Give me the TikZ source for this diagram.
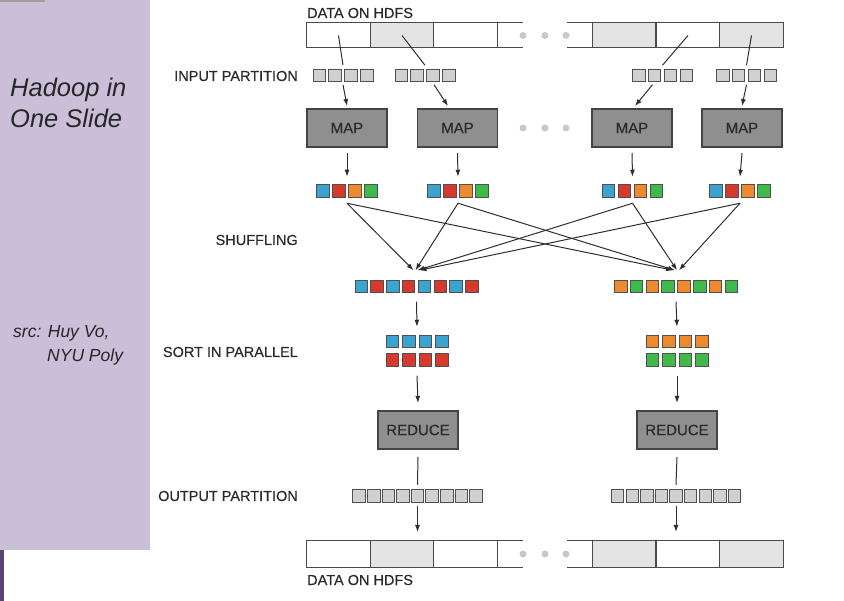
\documentclass[tikz,border=0pt]{standalone}
\usepackage{fontspec}
\setmainfont{Liberation Sans}
\newfontfamily\lblfont[FakeBold=0.4]{Liberation Sans}
\usepackage{tikz}
\usetikzlibrary{arrows.meta}
\usetikzlibrary{positioning}

\definecolor{lav}{HTML}{CABED9}
\definecolor{strip}{HTML}{594470}
\definecolor{topbar}{HTML}{A0A0A0}
\definecolor{txt}{HTML}{2A2A2A}
\definecolor{linec}{HTML}{2E2E2E}
\definecolor{cellline}{HTML}{4A4A4A}
\definecolor{cellgray}{HTML}{E3E3E3}
\definecolor{sqline}{HTML}{505050}
\definecolor{partgray}{HTML}{D0D0D0}
\definecolor{boxgray}{HTML}{8F8F8F}
\definecolor{boxline}{HTML}{444444}
\definecolor{dotc}{HTML}{C8C8C8}
\definecolor{sqblue}{HTML}{3AA3CF}
\definecolor{sqred}{HTML}{D63A2F}
\definecolor{sqorange}{HTML}{EE8A2E}
\definecolor{sqgreen}{HTML}{3DBA4A}

\tikzset{
  cell/.style={draw=cellline, line width=1pt, minimum width=63.5pt, minimum height=25pt, inner sep=0pt, outer sep=0pt},
  shadecell/.style={cell, fill=cellgray},
  sq/.style={draw=sqline, line width=0.9pt, minimum size=12.5pt, inner sep=0pt},
  grp/.style={inner sep=0pt, outer sep=0pt, minimum height=12.5pt},
  task/.style={draw=boxline, fill=boxgray, line width=1.1pt, minimum width=80pt, minimum height=38pt, outer sep=0pt, text=txt, font=\lblfont\fontsize{15}{17}\selectfont},
  lbl/.style={text=txt, inner sep=0pt, font=\lblfont\fontsize{14.5}{16}\selectfont},
  side/.style={text=black!85, inner sep=0pt, anchor=base west},
  arr/.style={draw=linec, line width=1pt, -{Latex[length=7pt,width=5pt]}},
  ln/.style={draw=linec, line width=1pt},
}

\begin{document}
\begin{tikzpicture}[x=1pt, y=-1pt]
    \useasboundingbox (0,0) rectangle (844,601);

    % side panel
    \fill[lav] (0,0) rectangle (150,550);
    \fill[strip] (0,550) rectangle (4,601);
    \fill[topbar] (0,0) rectangle (45,2.5);
    \node[side, font=\fontsize{25.5}{30}\selectfont\itshape] (ttl1) at (10,97) {Hadoop in};
    \node[side, font=\fontsize{25.5}{30}\selectfont\itshape] (ttl2) at (10,128) {One Slide};
    \node[side, font=\fontsize{17.5}{20}\selectfont\itshape] (src1) at (13,338) {src: Huy Vo,};
    \node[side, font=\fontsize{17.5}{20}\selectfont\itshape] (src2) at (47,362) {NYU Poly};

    % data on hdfs, top
    \node[lbl, anchor=base west] (dtop) at (307,18) {DATA ON HDFS};
    \node[cell] (t1) at (338.5,35.5) {};
    \node[shadecell] (t2) at (402,35.5) {};
    \node[cell] (t3) at (465.5,35.5) {};
    \node[shadecell] (t4) at (624,35.5) {};
    \node[cell] (t5) at (688,35.5) {};
    \node[shadecell] (t6) at (751.5,35.5) {};
    \draw[cellline, line width=1pt] (t3.north east) -- ++(26,0) (t3.south east) -- ++(26,0);
    \draw[cellline, line width=1pt] (t4.north west) -- ++(-25,0) (t4.south west) -- ++(-25,0);

    % labels
    \node[lbl, anchor=east] (linp) at (298,76) {INPUT PARTITION};
    \node[lbl, anchor=east] (lshf) at (298,240) {SHUFFLING};
    \node[lbl, anchor=east] (lsrt) at (298,352) {SORT IN PARALLEL};
    \node[lbl, anchor=east] (lout) at (298,496) {OUTPUT PARTITION};

    % input partitions
    \foreach \g/\cx in {1/343,2/425,3/662.5,4/746.5} {
        \node[grp, minimum width=60pt] (p\g) at (\cx,75.5) {};
        \foreach \i in {0,...,3}
            \node[sq, fill=partgray] at ({\cx+(\i-1.5)*15.8},75.5) {};
    }

    % map tasks
    \node[task] (m1) at (347,128) {MAP};
    \node[task] (m2) at (457.5,128) {MAP};
    \node[task] (m3) at (632,128) {MAP};
    \node[task] (m4) at (742,128) {MAP};

    % map outputs
    \foreach \g/\cx in {1/347,2/458,3/632.5,4/740} {
        \node[grp, minimum width=61pt] (c\g) at (\cx,191) {};
        \foreach \col [count=\i from 0] in {sqblue,sqred,sqorange,sqgreen}
            \node[sq, fill=\col] at ({\cx+(\i-1.5)*16},191) {};
    }

    % merged rows
    \node[grp, minimum width=123pt] (ml) at (416.5,286.5) {};
    \foreach \col [count=\i from 0] in {sqblue,sqred,sqblue,sqred,sqblue,sqred,sqblue,sqred}
        \node[sq, fill=\col] at ({416.5+(\i-3.5)*15.8},286.5) {};
    \node[grp, minimum width=123pt] (mr) at (676,286.5) {};
    \foreach \col [count=\i from 0] in {sqorange,sqgreen,sqorange,sqgreen,sqorange,sqgreen,sqorange,sqgreen}
        \node[sq, fill=\col] at ({676+(\i-3.5)*15.8},286.5) {};

    % sorted
    \node[grp, minimum width=62pt, minimum height=32pt] (sl) at (417,350.75) {};
    \node[grp, minimum width=62pt, minimum height=32pt] (sr) at (677,350.75) {};
    \foreach \i in {0,...,3} {
        \node[sq, fill=sqblue] at ({417+(\i-1.5)*16.5},341.5) {};
        \node[sq, fill=sqred] at ({417+(\i-1.5)*16.5},360) {};
        \node[sq, fill=sqorange] at ({677+(\i-1.5)*16.5},341.5) {};
        \node[sq, fill=sqgreen] at ({677+(\i-1.5)*16.5},360) {};
    }

    % reduce tasks
    \node[task] (rl) at (418,430) {REDUCE};
    \node[task] (rr) at (677,430) {REDUCE};

    % output partitions
    \node[grp, minimum width=129pt] (outl) at (417.5,496) {};
    \node[grp, minimum width=129pt] (outr) at (676,496) {};
    \foreach \i in {0,...,8} {
        \node[sq, fill=partgray] at ({417.5+(\i-4)*14.6},496) {};
        \node[sq, fill=partgray] at ({676+(\i-4)*14.6},496) {};
    }

    % data on hdfs, bottom
    \node[cell, minimum height=26pt] (b1) at (338.5,554) {};
    \node[shadecell, minimum height=26pt] (b2) at (402,554) {};
    \node[cell, minimum height=26pt] (b3) at (465.5,554) {};
    \node[shadecell, minimum height=26pt] (b4) at (624,554) {};
    \node[cell, minimum height=26pt] (b5) at (688,554) {};
    \node[shadecell, minimum height=26pt] (b6) at (751.5,554) {};
    \draw[cellline, line width=1pt] (b3.north east) -- ++(26,0) (b3.south east) -- ++(26,0);
    \draw[cellline, line width=1pt] (b4.north west) -- ++(-25,0) (b4.south west) -- ++(-25,0);
    \node[lbl, anchor=base west] (dbot) at (307,585) {DATA ON HDFS};

    % dots
    \foreach \x in {523,545,566} {
        \fill[dotc] (\x,35.5) circle (3.5pt);
        \fill[dotc] (\x,128) circle (3.5pt);
        \fill[dotc] (\x,554) circle (3.5pt);
    }

    % hdfs to partitions
    \draw[ln] (t1.center) -- ([yshift=4pt]p1.north);
    \draw[ln] (t2.center) -- ([yshift=4pt]p2.north);
    \draw[ln] (t5.center) -- ([yshift=4pt]p3.north);
    \draw[ln] (t6.center) -- ([yshift=4pt]p4.north);

    % partitions to map
    \draw[arr] ([yshift=-3pt]p1.south) -- ([yshift=3pt]m1.north);
    \draw[arr] ([xshift=9pt,yshift=-3pt]p2.south) -- ([xshift=-9.5pt,yshift=3pt]m2.north);
    \draw[arr] ([xshift=-10pt,yshift=-3pt]p3.south) -- ([xshift=3pt,yshift=3pt]m3.north);
    \draw[arr] ([yshift=-3pt]p4.south) -- ([yshift=3pt]m4.north);

    % map to outputs
    \foreach \g in {1,...,4}
        \draw[arr] ([yshift=-6pt]m\g.south) -- ([yshift=8pt]c\g.north);

    % shuffling
    \coordinate (tl) at ([yshift=10pt]ml.north);
    \coordinate (tr) at ([yshift=10pt]mr.north);
    \foreach \g/\s in {1/-3,2/-1,3/1,4/3} {
        \draw[arr] ([yshift=-6pt]c\g.south) -- ([xshift=\s pt]tl);
        \draw[arr] ([yshift=-6pt]c\g.south) -- ([xshift=\s pt]tr);
    }

    % sort and reduce
    \draw[arr] ([yshift=-9pt]ml.south) -- ([yshift=8pt]sl.north);
    \draw[arr] ([yshift=-9pt]mr.south) -- ([yshift=8pt]sr.north);
    \draw[arr] ([yshift=-9pt]sl.south) -- ([yshift=8pt]rl.north);
    \draw[arr] ([yshift=-9pt]sr.south) -- ([yshift=8pt]rr.north);
    \draw[ln] ([yshift=-8pt]rl.south) -- ([yshift=5pt]outl.north);
    \draw[ln] ([yshift=-8pt]rr.south) -- ([yshift=5pt]outr.north);

    % output to hdfs
    \coordinate (dl) at (outl.south |- b1.north);
    \coordinate (dr) at (outr.south |- b1.north);
    \draw[arr] ([yshift=-4pt]outl.south) -- ([yshift=9pt]dl);
    \draw[arr] ([yshift=-4pt]outr.south) -- ([yshift=9pt]dr);

\end{tikzpicture}
\end{document}
